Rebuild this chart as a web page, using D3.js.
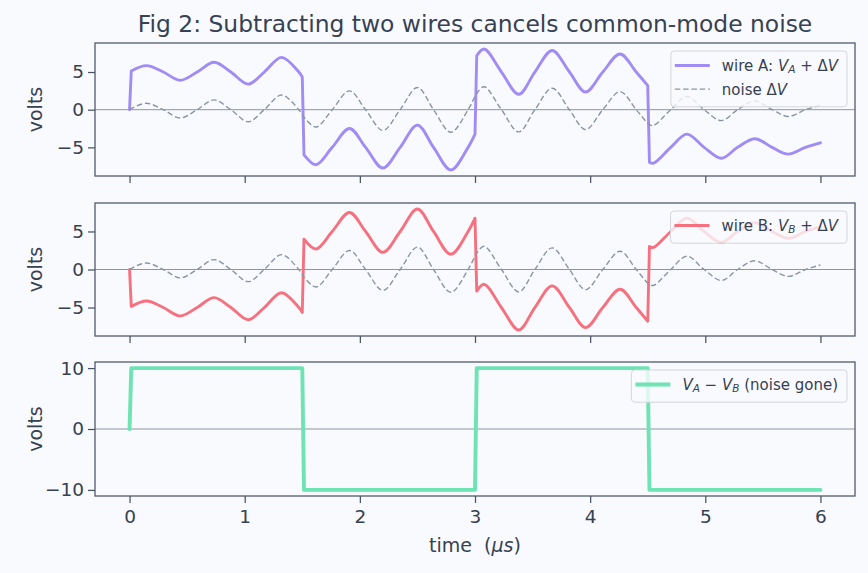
<!DOCTYPE html>
<html>
<head>
<meta charset="utf-8">
<script src="https://cdn.jsdelivr.net/npm/d3@7"></script>
<style>
  html, body { margin: 0; padding: 0; background: #f9fafd; }
  svg { display: block; font-family: "DejaVu Sans", sans-serif; }
</style>
</head>
<body>
<div id="chart"></div>
<script>
'use strict';

// ============================================================
//  Fig 2 — differential signalling: two wires share the same
//  noise, so V_A − V_B keeps only the square-wave signal.
// ============================================================

// ── Data ────────────────────────────────────────────────────
// sample times, µs (noise extrema, zero crossings, edges)
const TIME_US = [
    0, 0.015, 0.147, 0.293, 0.44, 0.587, 0.734, 0.88, 1.03, 1.17,
    1.32, 1.47, 1.5, 1.515, 1.62, 1.76, 1.91, 2.05, 2.2, 2.35,
    2.5, 2.64, 2.79, 2.94, 3.0, 3.015, 3.08, 3.23, 3.38, 3.52,
    3.67, 3.82, 3.96, 4.11, 4.26, 4.40, 4.5, 4.515, 4.55, 4.70,
    4.84, 4.99, 5.14, 5.28, 5.43, 5.58, 5.72, 5.87, 6.0
];
// common-mode noise ΔV, volts
const NOISE_V = [
    0, 0.14, 0.85, 0, -1.1, 0, 1.3, 0, -1.6, 0,
    1.95, 0, -0.65, -1.0, -2.3, 0, 2.5, 0, -2.75, 0,
    2.95, 0, -3.0, 0, 1.75, 2.15, 3.05, 0, -2.95, 0,
    2.85, 0, -2.65, 0, 2.4, 0, -1.8, -1.97, -2.1, 0,
    1.75, 0, -1.45, 0, 1.15, 0, -0.9, 0, 0.6
];
// square-wave signal on wire A (wire B carries the opposite)
const EDGE_TIMES = [0, 1.5, 3, 4.5];
const VA_LEVELS  = [5, -5, 5, -5];

const X_TICKS    = [0, 1, 2, 3, 4, 5, 6];
const WIRE_TICKS = [-5, 0, 5];
const DIFF_TICKS = [-10, 0, 10];

// ── Look ────────────────────────────────────────────────────
const W = 868, H = 573;
const COL = {
    bg:     '#f9fafd',
    text:   '#364152',
    spine:  '#4a5466',
    zero:   '#8d95a1',
    noise:  '#8a95a3',
    wireA:  '#a18cf6',
    wireB:  '#f6717f',
    diff:   '#6ee4b4',
    legend: '#d3d6dc'
};
const LEFT = 95, RIGHT = 855;
const NOISE_DASH = '5.5,2.8';
const TICK_FS = 18.5, LABEL_FS = 19;

function vA(t) {
    if (t <= EDGE_TIMES[0]) return 0;
    return VA_LEVELS[d3.bisectLeft(EDGE_TIMES, t) - 1];
}

const rows = TIME_US.map((t, i) => {
    const a = vA(t), n = NOISE_V[i];
    return { t, level: a, noise: n, wireA: a + n, wireB: -a + n, diff: a - (-a) };
});

// runs of constant signal level — smooth inside, straight across edges
const runs = [];
rows.forEach(r => {
    const last = runs[runs.length - 1];
    if (last && last[0].level === r.level) last.push(r);
    else runs.push([r]);
});

// ── Svg ─────────────────────────────────────────────────────
const svg = d3.select('#chart').append('svg')
    .attr('width', W)
    .attr('height', H);

svg.append('rect')
    .attr('width', W).attr('height', H)
    .attr('fill', COL.bg);

svg.append('text')
    .attr('x', (LEFT + RIGHT) / 2)
    .attr('y', 32)
    .attr('text-anchor', 'middle')
    .attr('font-size', 23.4)
    .attr('fill', COL.text)
    .text('Fig 2: Subtracting two wires cancels common-mode noise');

// shared x scale, matplotlib-style 5 % margins
function padded(ext) {
    const m = (ext[1] - ext[0]) * 0.05;
    return [ext[0] - m, ext[1] + m];
}
const x = d3.scaleLinear()
    .domain(padded(d3.extent(rows, d => d.t)))
    .range([LEFT, RIGHT]);

// rich text helper for the mathtext bits (italic V, subscripts)
function rich(sel, parts) {
    parts.forEach(p => {
        const ts = sel.append('tspan').text(p.t);
        if (p.it) ts.attr('font-style', 'italic');
        if (p.sub) ts.attr('font-size', '70%').attr('dy', '0.22em');
        if (p.back) ts.attr('dy', '-0.154em');
    });
    return sel;
}

const panels = [
    {
        top: 43, bottom: 176, key: 'wireA', colour: COL.wireA, lw: 2.9,
        ticks: WIRE_TICKS, noise: true,
        legend: [
            { colour: COL.wireA, lw: 2.9, parts: [
                { t: 'wire A: ' }, { t: 'V', it: true }, { t: 'A', it: true, sub: true },
                { t: ' + Δ', back: true }, { t: 'V', it: true }] },
            { colour: COL.noise, lw: 1.4, dash: NOISE_DASH, parts: [
                { t: 'noise Δ' }, { t: 'V', it: true }] }
        ]
    },
    {
        top: 203, bottom: 336, key: 'wireB', colour: COL.wireB, lw: 2.9,
        ticks: WIRE_TICKS, noise: true,
        legend: [
            { colour: COL.wireB, lw: 2.9, parts: [
                { t: 'wire B: ' }, { t: 'V', it: true }, { t: 'B', it: true, sub: true },
                { t: ' + Δ', back: true }, { t: 'V', it: true }] }
        ]
    },
    {
        top: 362, bottom: 496, key: 'diff', colour: COL.diff, lw: 3.9,
        ticks: DIFF_TICKS, noise: false, xLabels: true,
        legend: [
            { colour: COL.diff, lw: 3.9, parts: [
                { t: 'V', it: true }, { t: 'A', it: true, sub: true },
                { t: ' − ', back: true }, { t: 'V', it: true }, { t: 'B', it: true, sub: true },
                { t: ' (noise gone)', back: true }] }
        ]
    }
];

panels.forEach(p => {
    const keys = p.noise ? [p.key, 'noise'] : [p.key];
    const y = d3.scaleLinear()
        .domain(padded([d3.min(rows, r => d3.min(keys, k => r[k])),
                        d3.max(rows, r => d3.max(keys, k => r[k]))]))
        .range([p.bottom, p.top]);

    const g = svg.append('g');

    // zero reference
    g.append('line')
        .attr('x1', LEFT).attr('x2', RIGHT)
        .attr('y1', y(0)).attr('y2', y(0))
        .attr('stroke', COL.zero)
        .attr('stroke-width', 1);

    // series
    const smooth = key => d3.line()
        .x(d => x(d.t))
        .y(d => y(d[key]))
        .curve(d3.curveCatmullRom.alpha(0.5));

    // wire: each run smooth, joined by straight edge segments
    const wirePath = runs
        .map((run, i) => {
            const d = run.length > 1 ? smooth(p.key)(run)
                : `M${x(run[0].t)},${y(run[0][p.key])}`;
            return i === 0 ? d : 'L' + d.slice(1);
        })
        .join('');

    g.append('path')
        .attr('d', wirePath)
        .attr('fill', 'none')
        .attr('stroke', p.colour)
        .attr('stroke-width', p.lw)
        .attr('stroke-linejoin', 'round')
        .attr('stroke-linecap', 'round');

    if (p.noise) {
        g.append('path')
            .datum(rows)
            .attr('d', smooth('noise'))
            .attr('fill', 'none')
            .attr('stroke', COL.noise)
            .attr('stroke-width', 1.4)
            .attr('stroke-dasharray', NOISE_DASH);
    }

    // axes
    const yAxis = d3.axisLeft(y).tickValues(p.ticks).tickSize(7).tickPadding(4)
        .tickFormat(d => d < 0 ? '\u2212' + Math.abs(d) : d);
    const xAxis = d3.axisBottom(x).tickValues(X_TICKS).tickSize(7).tickPadding(7)
        .tickFormat(p.xLabels ? d3.format('d') : '');

    [g.append('g').attr('transform', `translate(${LEFT},0)`).call(yAxis),
     g.append('g').attr('transform', `translate(0,${p.bottom})`).call(xAxis)]
        .forEach(ax => {
            ax.select('.domain').remove();
            ax.selectAll('line').attr('stroke', COL.spine).attr('stroke-width', 1.25);
            ax.selectAll('text')
                .attr('fill', COL.text)
                .attr('font-size', TICK_FS)
                .attr('font-family', '"DejaVu Sans", sans-serif');
        });

    g.append('rect')
        .attr('x', LEFT).attr('y', p.top)
        .attr('width', RIGHT - LEFT).attr('height', p.bottom - p.top)
        .attr('fill', 'none')
        .attr('stroke', COL.spine)
        .attr('stroke-width', 1.25);

    g.append('text')
        .attr('transform', `translate(42,${(p.top + p.bottom) / 2}) rotate(-90)`)
        .attr('text-anchor', 'middle')
        .attr('font-size', LABEL_FS)
        .attr('fill', COL.text)
        .text('volts');

    // legend, upper right
    const lg = g.append('g');
    const box = lg.append('rect')
        .attr('rx', 3.5)
        .attr('fill', COL.bg)
        .attr('fill-opacity', 0.8)
        .attr('stroke', COL.legend)
        .attr('stroke-width', 1);

    const top = p.top + 8, rowH = 23.6, fs = 15;
    let maxW = 0;
    const items = p.legend.map((it, i) => {
        const cy = top + 14.5 + i * rowH;
        const h = lg.append('line')
            .attr('y1', cy).attr('y2', cy)
            .attr('stroke', it.colour)
            .attr('stroke-width', it.lw);
        if (it.dash) h.attr('stroke-dasharray', it.dash);
        const t = rich(lg.append('text')
            .attr('y', cy + 5.4)
            .attr('font-size', fs)
            .attr('fill', COL.text), it.parts);
        maxW = Math.max(maxW, t.node().getComputedTextLength());
        return { h, t };
    });

    const boxW = 51 + maxW + 9;
    const bx = RIGHT - 8 - boxW;
    box.attr('x', bx).attr('y', top)
        .attr('width', boxW)
        .attr('height', 9 + p.legend.length * rowH - 0.4);
    items.forEach(({ h, t }) => {
        h.attr('x1', bx + 4).attr('x2', bx + 39);
        t.attr('x', bx + 51);
    });
});

// x-axis title
rich(svg.append('text')
    .attr('x', (LEFT + RIGHT) / 2)
    .attr('y', 552)
    .attr('text-anchor', 'middle')
    .attr('font-size', LABEL_FS)
    .attr('fill', COL.text)
    .attr('xml:space', 'preserve')
    .style('white-space', 'pre'),
    [{ t: 'time  (' }, { t: 'μs', it: true }, { t: ')' }]);
</script>
</body>
</html>
